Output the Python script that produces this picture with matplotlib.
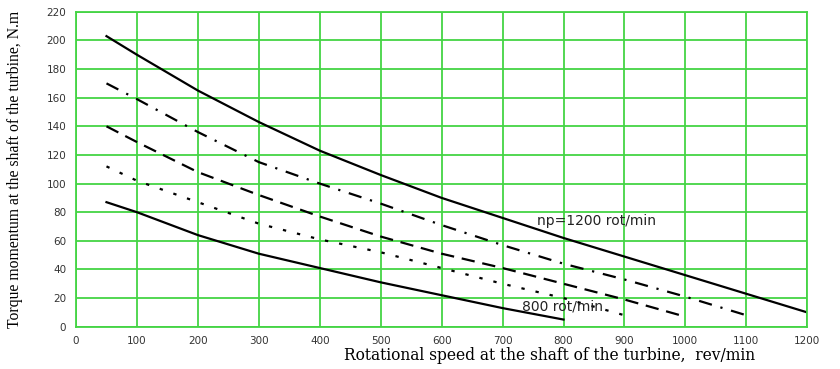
import matplotlib
matplotlib.use("Agg")
import matplotlib.pyplot as plt

# Data
speed_1200 = [50, 100, 200, 300, 400, 500, 600, 700, 800, 900, 1000, 1100, 1200]
torque_1200 = [203, 190, 165, 143, 123, 106, 90, 76, 62, 49, 36, 23, 10]

speed_1100 = [50, 100, 200, 300, 400, 500, 600, 700, 800, 900, 1000, 1100]
torque_1100 = [170, 159, 136, 115, 100, 86, 71, 57, 44, 33, 21, 8]

speed_1000 = [50, 100, 200, 300, 400, 500, 600, 700, 800, 900, 1000]
torque_1000 = [140, 129, 108, 92, 77, 63, 51, 41, 30, 19, 7]

speed_900 = [50, 100, 200, 300, 400, 500, 600, 700, 800, 900]
torque_900 = [112, 102, 87, 72, 61, 52, 41, 30, 20, 8]

speed_800 = [50, 100, 200, 300, 400, 500, 600, 700, 800]
torque_800 = [87, 80, 64, 51, 41, 31, 22, 13, 5]

x_ticks = list(range(0, 1201, 100))
y_ticks = list(range(0, 221, 20))

fig = plt.figure(figsize=(8.4, 3.69), dpi=100)
ax = fig.add_axes([0.0905, 0.1146, 0.8705, 0.8534])

lw = 1.6
ax.plot(speed_1200, torque_1200, color="black", lw=lw, ls="-")
ax.plot(speed_1100, torque_1100, color="black", lw=lw, ls=(0, (6, 4, 1, 4)))
ax.plot(speed_1000, torque_1000, color="black", lw=lw, ls=(0, (6, 3.5)))
ax.plot(speed_900, torque_900, color="black", lw=lw, ls=(0, (1.5, 5)))
ax.plot(speed_800, torque_800, color="black", lw=lw, ls="-")

ax.set_xlim(0, 1200)
ax.set_ylim(0, 220)
ax.set_xticks(x_ticks)
ax.set_yticks(y_ticks)
ax.grid(True, color="#44d444", lw=1.3)
ax.set_axisbelow(True)
for s in ax.spines.values():
    s.set_color("#44d444")
    s.set_linewidth(1.3)
ax.tick_params(length=0, labelsize=7.5, labelcolor="#333333", pad=7)

ax.text(757, 74, "np=1200 rot/min", fontsize=10, color="#222222", va="center", ha="left")
ax.text(732, 14, "800 rot/min", fontsize=10, color="#222222", va="center", ha="left")

ax.set_xlabel("Rotational speed at the shaft of the turbine,  rev/min",
              family="DejaVu Serif", fontsize=11.2)
ax.xaxis.set_label_coords(0.647, -0.09)
ax.xaxis.label.set_va("center")
ax.set_ylabel("Torque momentum at the shaft of the turbine, N.m",
              family="Liberation Serif", fontsize=11.3)
ax.yaxis.set_label_coords(-0.072, 0.5)

fig.savefig("out.png", dpi=100)
